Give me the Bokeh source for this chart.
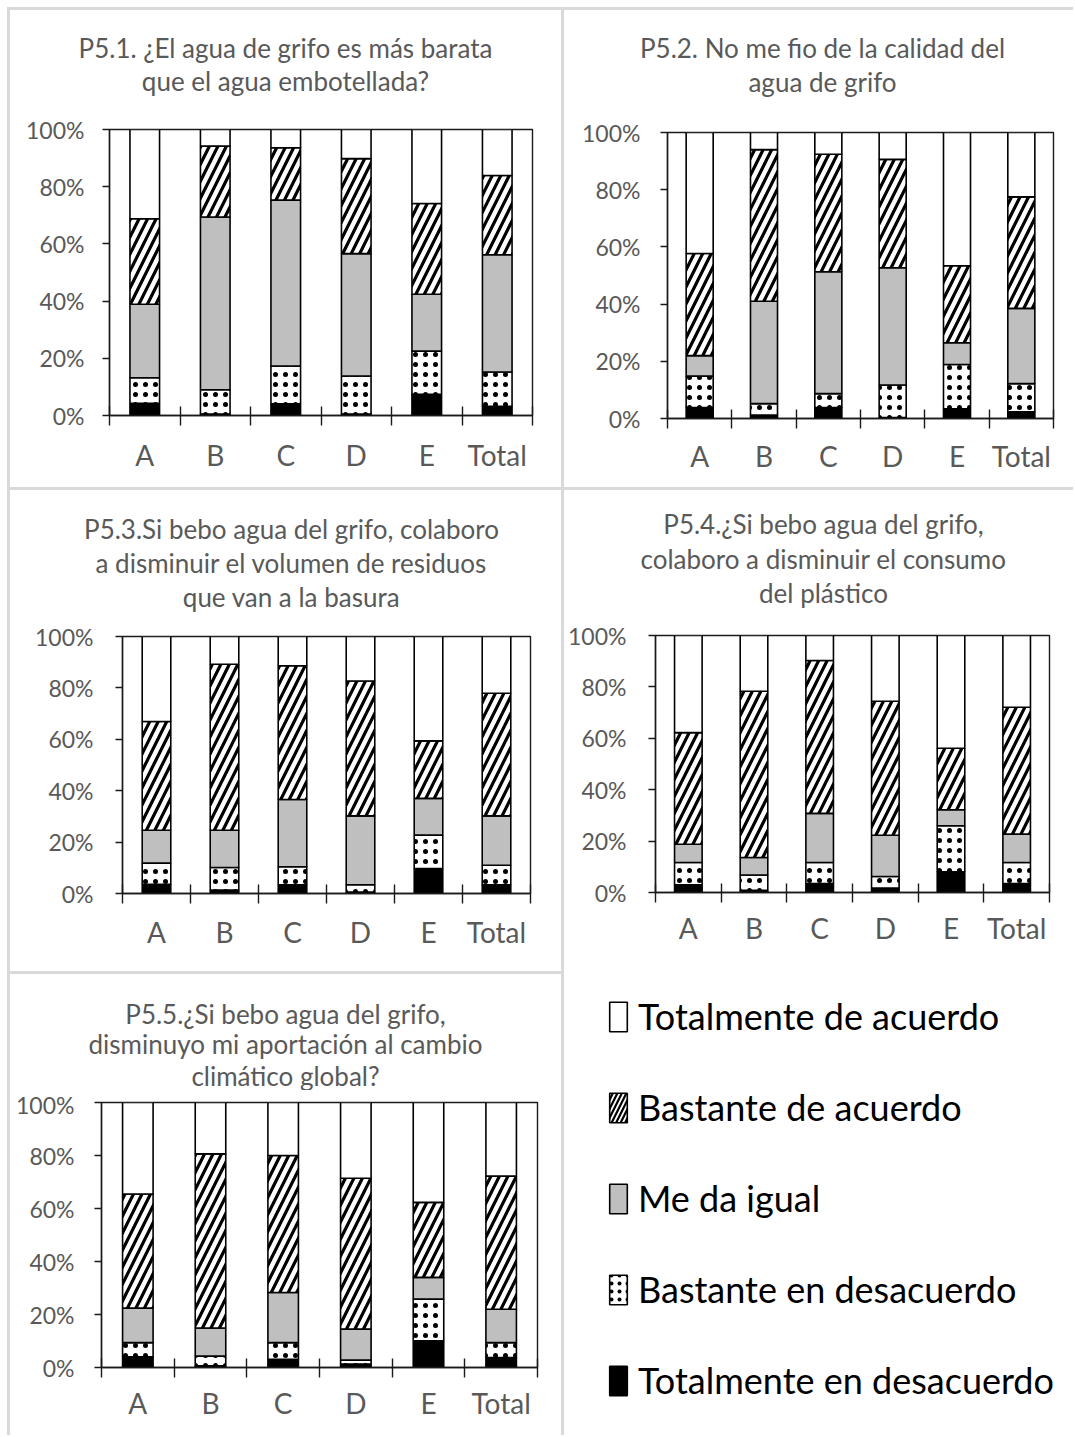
from bokeh.plotting import figure
from bokeh.models import (Range1d, FixedTicker, PrintfTickFormatter, Label, Legend,
                          LegendItem, ColumnDataSource, Spacer, Plot)
from bokeh.layouts import row, column
from bokeh.embed import file_html
from bokeh.resources import INLINE

# ---------------- data (percent of answers) ----------------
CATEGORIES = ["A", "B", "C", "D", "E", "Total"]
SERIES = ["Totalmente en desacuerdo", "Bastante en desacuerdo", "Me da igual",
          "Bastante de acuerdo", "Totalmente de acuerdo"]
KEYS = ["tot_des", "bas_des", "igual", "bas_ac", "tot_ac"]

TITLE_51 = ["P5.1. ¿El agua de grifo es más barata", "que el agua embotellada?"]
P51_TOT_DES = [4.3, 0.5, 4.1, 0.5, 7.4, 3.2]
P51_BAS_DES = [8.9, 8.5, 13.2, 13.3, 15.1, 12.0]
P51_IGUAL = [25.7, 60.4, 58.0, 42.8, 19.9, 41.0]
P51_BAS_AC = [29.9, 24.8, 18.3, 33.2, 31.7, 27.7]
P51_TOT_AC = [31.2, 5.8, 6.4, 10.2, 25.9, 16.1]

TITLE_52 = ["P5.2. No me fio de la calidad del", "agua de grifo"]
P52_TOT_DES = [3.8, 1.2, 3.8, 0.3, 3.4, 2.3]
P52_BAS_DES = [11.0, 4.0, 4.9, 11.4, 15.5, 9.9]
P52_IGUAL = [7.2, 35.8, 42.6, 41.0, 7.6, 26.3]
P52_BAS_AC = [35.7, 53.0, 41.1, 37.9, 26.9, 39.0]
P52_TOT_AC = [42.3, 6.0, 7.6, 9.4, 46.6, 22.5]

TITLE_53 = ["P5.3.Si bebo agua del grifo, colaboro",
            "a disminuir el volumen de residuos", "que van a la basura"]
P53_TOT_DES = [3.6, 1.3, 3.4, 0.6, 9.7, 3.4]
P53_BAS_DES = [8.2, 8.8, 7.0, 2.8, 13.0, 7.6]
P53_IGUAL = [12.8, 14.5, 26.2, 26.8, 14.3, 19.2]
P53_BAS_AC = [42.3, 64.6, 52.0, 52.5, 22.4, 47.7]
P53_TOT_AC = [33.1, 10.8, 11.4, 17.3, 40.6, 22.1]

TITLE_54 = ["P5.4.¿Si bebo agua del grifo,", "colaboro a disminuir el consumo",
            "del plástico"]
P54_TOT_DES = [3.0, 0.9, 3.5, 1.7, 8.1, 3.5]
P54_BAS_DES = [8.7, 5.9, 8.2, 4.5, 17.9, 8.2]
P54_IGUAL = [7.1, 6.8, 19.1, 16.1, 6.2, 11.0]
P54_BAS_AC = [43.4, 64.7, 59.5, 52.1, 23.9, 49.4]
P54_TOT_AC = [37.8, 21.7, 9.7, 25.6, 43.9, 27.9]

TITLE_55 = ["P5.5.¿Si bebo agua del grifo,", "disminuyo mi aportación al cambio",
            "climático global?"]
P55_TOT_DES = [4.0, 0.6, 3.1, 1.3, 10.1, 3.8]
P55_BAS_DES = [5.4, 3.7, 6.3, 1.5, 15.7, 5.6]
P55_IGUAL = [13.0, 10.6, 18.9, 11.7, 8.2, 12.6]
P55_BAS_AC = [43.1, 65.7, 51.7, 56.9, 28.3, 50.2]
P55_TOT_AC = [34.5, 19.4, 20.0, 28.6, 37.7, 27.8]

Y_TICKS = [0, 20, 40, 60, 80, 100]

# ---------------- styles ----------------
FILL = ["black", "white", "#bfbfbf", "white", "white"]
HATCH = [" ", ".", " ", "/", " "]
HATCH_SCALE = [10, 10, 10, 17, 10]
HATCH_WEIGHT = [1, 0.2, 1, 3.2, 1]
AX = "#1a1a1a"
GRAY_TXT = "#595959"
FONT = "Lato"
SEP = "#d9d9d9"
HAS_FRAME_ALIGN = "frame_align" in Plot.properties()

XPOS = list(range(1, len(CATEGORIES) + 1))
X0, X1 = 0.5, len(CATEGORIES) + 0.5


def no_align(fig):
    if HAS_FRAME_ALIGN:
        fig.frame_align = False
    return fig


def title_block(lines, cx, ys, w, th):
    t = figure(width=w, height=th, x_range=Range1d(0, w), y_range=Range1d(0, th),
               output_backend="svg", toolbar_location=None, x_axis_type=None,
               y_axis_type=None, min_border_left=0, min_border_right=0,
               min_border_top=0, min_border_bottom=0)
    no_align(t)
    t.xgrid.visible = False
    t.ygrid.visible = False
    t.outline_line_color = None
    for line, ty in zip(lines, ys):
        t.add_layout(Label(x=cx, y=th - ty, text=line, text_align="center",
                           text_baseline="middle", text_font=FONT,
                           text_font_size="26px", text_color=GRAY_TXT))
    return t


def panel(title_lines, title_cx, title_ys, vals, w, h, bl, br, bt, bb, ystand, xstand, th):
    head = title_block(title_lines, title_cx, title_ys, w, th)
    p = figure(width=w, height=h - th, x_range=Range1d(X0, X1),
               y_range=Range1d(0, 100), output_backend="svg", toolbar_location=None,
               min_border_left=bl, min_border_right=br, min_border_top=bt - th,
               min_border_bottom=bb, background_fill_color="white",
               border_fill_color="white")
    no_align(p)
    data = dict(x=XPOS)
    for k, v in zip(KEYS, vals):
        data[k] = v
    src = ColumnDataSource(data)
    p.vbar_stack(KEYS, x="x", width=0.42, source=src, fill_color=FILL,
                 line_color="black", line_width=1.6, hatch_pattern=HATCH,
                 hatch_color="black", hatch_scale=HATCH_SCALE,
                 hatch_weight=HATCH_WEIGHT)
    p.xgrid.visible = False
    p.ygrid.visible = False
    p.outline_line_color = AX
    p.outline_line_width = 1.4
    xa = p.xaxis[0]
    xa.ticker = FixedTicker(ticks=XPOS, minor_ticks=[i + 0.5 for i in range(len(CATEGORIES) + 1)])
    xa.major_label_overrides = {x: c for x, c in zip(XPOS, CATEGORIES)}
    xa.major_tick_in = 0
    xa.major_tick_out = 0
    xa.minor_tick_in = 9
    xa.minor_tick_out = 10
    xa.minor_tick_line_color = AX
    xa.minor_tick_line_width = 1.4
    xa.axis_line_color = AX
    xa.axis_line_width = 1.4
    xa.major_label_text_font = FONT
    xa.major_label_text_font_size = "28px"
    xa.major_label_text_color = GRAY_TXT
    xa.major_label_standoff = xstand
    ya = p.yaxis[0]
    ya.ticker = FixedTicker(ticks=Y_TICKS)
    ya.formatter = PrintfTickFormatter(format="%d%%")
    ya.major_tick_in = 0
    ya.major_tick_out = 7
    ya.major_tick_line_color = AX
    ya.major_tick_line_width = 1.4
    ya.minor_tick_line_color = None
    ya.axis_line_color = AX
    ya.axis_line_width = 1.4
    ya.major_label_text_font = FONT
    ya.major_label_text_font_size = "23px"
    ya.major_label_text_color = GRAY_TXT
    ya.major_label_standoff = ystand
    return column(head, p), src


# local pixel geometry of each panel (figure box and plot frame)
p1, s1 = panel(TITLE_51, 275, [37, 70],
               [P51_TOT_DES, P51_BAS_DES, P51_IGUAL, P51_BAS_AC, P51_TOT_AC],
               551, 477, 99, 29, 119, 72, 18, 12, 99)
p2, s2 = panel(TITLE_52, 258, [37, 71],
               [P52_TOT_DES, P52_BAS_DES, P52_IGUAL, P52_BAS_AC, P52_TOT_AC],
               509, 477, 103, 20, 122, 69, 20, 10, 102)
p3, s3 = panel(TITLE_53, 281, [38, 72, 106],
               [P53_TOT_DES, P53_BAS_DES, P53_IGUAL, P53_BAS_AC, P53_TOT_AC],
               551, 481, 112, 31, 146, 78, 22, 11, 126)
p4, s4 = panel(TITLE_54, 259, [33, 68, 102],
               [P54_TOT_DES, P54_BAS_DES, P54_IGUAL, P54_BAS_AC, P54_TOT_AC],
               509, 481, 91, 24, 145, 79, 22, 8, 125)
p5, s5 = panel(TITLE_55, 275, [39, 69, 101],
               [P55_TOT_DES, P55_BAS_DES, P55_IGUAL, P55_BAS_AC, P55_TOT_AC],
               551, 461, 91, 24, 128, 68, 20, 8, 116)

# ---------------- legend panel ----------------
# shares the bar data of P5.5; its ranges lie away from the bars so only the legend shows
lf = figure(width=509, height=464, x_range=Range1d(-5, -4), y_range=Range1d(200, 300),
            output_backend="svg", toolbar_location=None, x_axis_type=None,
            y_axis_type=None, min_border_left=43, min_border_top=23,
            min_border_right=0, min_border_bottom=0)
no_align(lf)
lf.xgrid.visible = False
lf.ygrid.visible = False
lf.outline_line_color = None
rs = lf.vbar_stack(KEYS, x="x", width=0.42, source=s5, fill_color=FILL,
                   line_color="black", line_width=1.6, hatch_pattern=HATCH,
                   hatch_color="black", hatch_scale=[8, 8, 8, 9, 8],
                   hatch_weight=[1, 0.2, 1, 2.2, 1])
items = [LegendItem(label=SERIES[i], renderers=[rs[i]]) for i in reversed(range(len(SERIES)))]
leg = Legend(items=items, location="top_left", margin=0, padding=0,
             border_line_color=None, background_fill_alpha=0,
             glyph_width=22, glyph_height=37, label_standoff=9, spacing=47,
             label_text_font=FONT, label_text_font_size="36px",
             label_text_color="black")
lf.add_layout(leg)


def gray(w, h):
    return Spacer(width=w, height=h, styles={"background-color": SEP})


grid = column(
    gray(1066, 3),
    row(gray(3, 477), p1, gray(3, 477), p2),
    gray(1066, 3),
    row(gray(3, 481), p3, gray(3, 481), p4),
    row(gray(3, 464), column(gray(551, 3), p5), gray(3, 464), lf),
)
layout = column(Spacer(width=1073, height=7),
                row(Spacer(width=7, height=1428), grid))

open("out.html", "w").write(file_html(layout, INLINE))
